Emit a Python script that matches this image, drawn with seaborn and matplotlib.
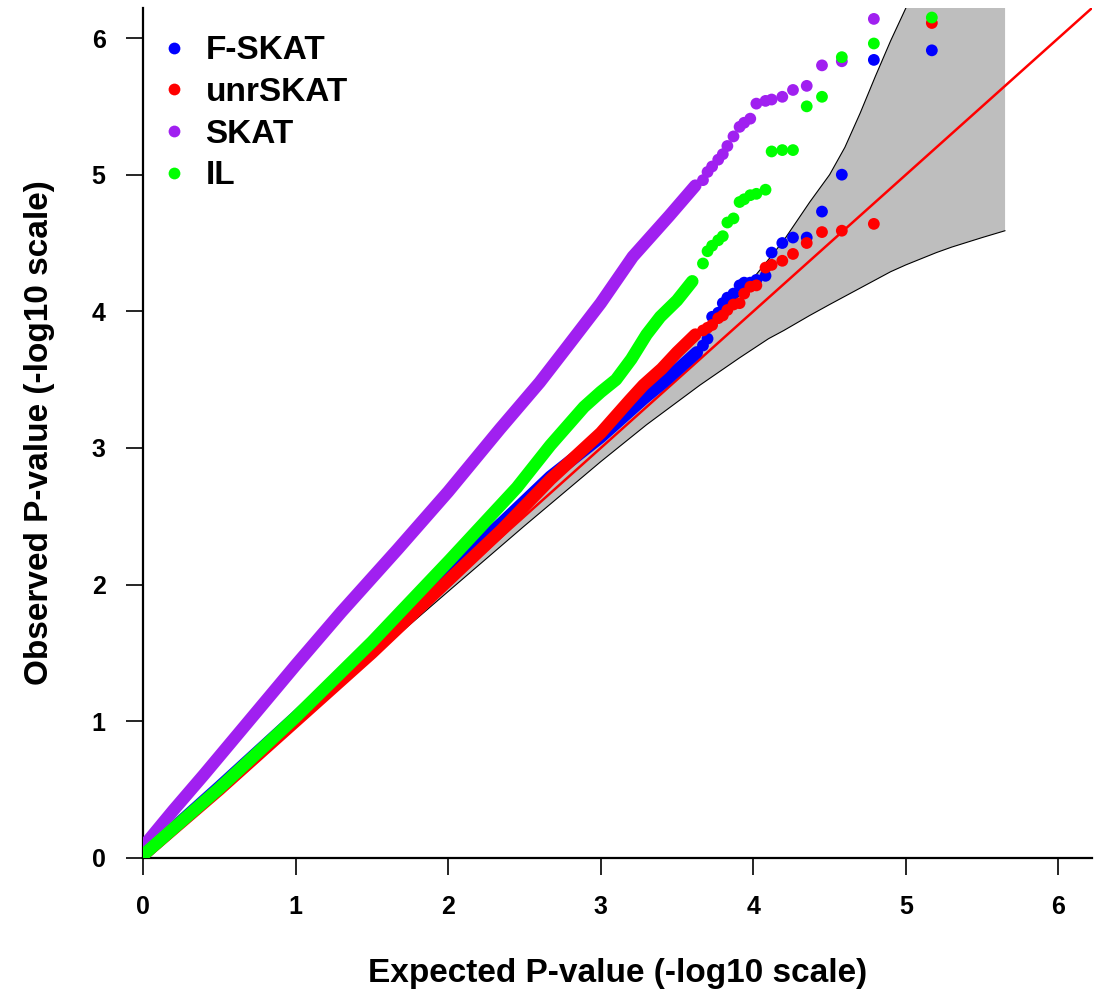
import numpy as np
import pandas as pd
import seaborn as sns
import matplotlib.pyplot as plt

# ---- values (-log10 scale) ----
series_names = ["F-SKAT", "unrSKAT", "SKAT", "IL"]
series_colors = ["#0000FF", "#FF0000", "#A020F0", "#00FF00"]

# dense body of each curve (thousands of overlapping dots) traced as knots
fskat_trace_x = [0, 0.5, 1.0, 1.5, 2.0, 2.35, 2.67, 3.0, 3.15, 3.28, 3.41, 3.55, 3.63]
fskat_trace_y = [0.02, 0.52, 1.03, 1.55, 2.10, 2.45, 2.79, 3.08, 3.23, 3.36, 3.48, 3.62, 3.70]
unrskat_trace_x = [0, 0.5, 1.0, 1.5, 2.0, 2.35, 2.67, 3.0, 3.19, 3.28, 3.40, 3.50, 3.62]
unrskat_trace_y = [0.02, 0.50, 1.00, 1.50, 2.03, 2.40, 2.77, 3.11, 3.35, 3.46, 3.58, 3.70, 3.83]
skat_trace_x = [0, 0.2, 0.4, 0.64, 1.0, 1.3, 1.67, 2.0, 2.34, 2.6, 2.78, 3.0, 3.21, 3.45, 3.62]
skat_trace_y = [0.08, 0.35, 0.61, 0.93, 1.41, 1.80, 2.26, 2.68, 3.14, 3.48, 3.74, 4.06, 4.40, 4.70, 4.92]
il_trace_x = [0, 0.5, 1.0, 1.5, 2.01, 2.45, 2.67, 2.89, 3.0, 3.1, 3.2, 3.3, 3.39, 3.5, 3.6]
il_trace_y = [0.02, 0.51, 1.03, 1.58, 2.18, 2.71, 3.02, 3.30, 3.41, 3.50, 3.65, 3.83, 3.96, 4.08, 4.22]

# top 20 ranks, drawn as separate dots (same expected value for every test)
tail_expected = [5.17, 4.79, 4.58, 4.45, 4.35, 4.26, 4.19, 4.12, 4.08, 4.02,
                 3.98, 3.94, 3.91, 3.87, 3.83, 3.80, 3.77, 3.73, 3.70, 3.67]
fskat_tail = [5.91, 5.84, 5.00, 4.73, 4.54, 4.54, 4.50, 4.43, 4.26, 4.23,
              4.21, 4.21, 4.19, 4.13, 4.10, 4.06, 3.99, 3.96, 3.80, 3.75]
unrskat_tail = [6.11, 4.64, 4.59, 4.58, 4.50, 4.42, 4.37, 4.34, 4.32, 4.19,
                4.18, 4.13, 4.06, 4.05, 4.01, 3.97, 3.95, 3.90, 3.88, 3.86]
skat_tail = [np.nan, 6.14, 5.83, 5.80, 5.65, 5.62, 5.57, 5.55, 5.54, 5.52,
             5.41, 5.38, 5.35, 5.28, 5.21, 5.15, 5.11, 5.06, 5.02, 4.96]
il_tail = [6.15, 5.96, 5.86, 5.57, 5.50, 5.18, 5.18, 5.17, 4.89, 4.86,
           4.85, 4.82, 4.80, 4.68, 4.65, 4.55, 4.52, 4.48, 4.44, 4.35]

# grey confidence band around the null line
band_x = [0, 1.0, 2.0, 2.5, 3.0, 3.3, 3.65, 3.91, 4.1, 4.2, 4.37, 4.5, 4.6, 4.7, 4.8,
          4.9, 5.0, 5.2, 5.3, 5.5, 5.65]
band_lower = [0, 0.985, 1.95, 2.43, 2.90, 3.17, 3.46, 3.66, 3.80, 3.86, 3.97, 4.05, 4.11,
              4.17, 4.23, 4.29, 4.34, 4.43, 4.47, 4.54, 4.59]
band_upper = [0, 1.02, 2.06, 2.58, 3.10, 3.42, 3.82, 4.12, 4.38, 4.52, 4.80, 5.00, 5.20,
              5.45, 5.72, 5.98, 6.22, 6.75, 7.00, 7.50, 7.90]

# long tables for seaborn
traces = [(fskat_trace_x, fskat_trace_y), (unrskat_trace_x, unrskat_trace_y),
          (skat_trace_x, skat_trace_y), (il_trace_x, il_trace_y)]
tails = [fskat_tail, unrskat_tail, skat_tail, il_tail]
trace_df = pd.concat([pd.DataFrame({"expected": tx, "observed": ty, "test": nm})
                      for nm, (tx, ty) in zip(series_names, traces)], ignore_index=True)
tail_df = pd.concat([pd.DataFrame({"expected": tail_expected, "observed": tv, "test": nm})
                     for nm, tv in zip(series_names, tails)], ignore_index=True)
palette = dict(zip(series_names, series_colors))

sns.set_style("ticks")
plt.rcParams['font.family'] = ['Liberation Sans', 'DejaVu Sans']
plt.rcParams['font.weight'] = 'bold'
for k in ['text.color', 'axes.labelcolor', 'xtick.color', 'ytick.color', 'axes.edgecolor']:
    plt.rcParams[k] = 'black'

fig = plt.figure(figsize=(10.95, 9.96), dpi=100)
ax = fig.add_axes([0.1306, 0.1386, 0.8667, 0.8534])

ax.fill_between(band_x, band_lower, band_upper, color="#BEBEBE", lw=0, zorder=1)
ax.plot(band_x, band_lower, color="black", lw=0.8, zorder=1.5)
ax.plot(band_x, band_upper, color="black", lw=0.8, zorder=1.5)
ax.axline((0, 0), slope=1, color="#FF0000", lw=1.8, zorder=2)

sns.lineplot(data=trace_df, x="expected", y="observed", hue="test", hue_order=series_names,
             palette=palette, estimator=None, sort=False, lw=9, legend=False,
             solid_capstyle="round", solid_joinstyle="round", ax=ax, zorder=3)
sns.scatterplot(data=tail_df, x="expected", y="observed", hue="test", hue_order=series_names,
                palette=palette, s=72, linewidth=0, ax=ax, zorder=4)

ax.set_xlim(0, 6.22)
ax.set_ylim(0, 6.22)
ax.set_xticks(range(7))
ax.set_yticks(range(7))
sns.despine(ax=ax)
for sp in ["left", "bottom"]:
    ax.spines[sp].set_linewidth(1.6)
ax.tick_params(length=12, width=1.2, labelsize=18, pad=15)
ax.set_xlabel("Expected P-value (-log10 scale)", fontsize=24, fontweight="bold", labelpad=28)
ax.set_ylabel("Observed P-value (-log10 scale)", fontsize=24, fontweight="bold", labelpad=26)

sns.move_legend(ax, "upper left", bbox_to_anchor=(0.015, 0.968), frameon=False, title=None,
                prop={"size": 24, "weight": "bold"}, borderaxespad=0, borderpad=0,
                handlelength=1.0, handletextpad=0.45, labelspacing=0.32, markerscale=1.0)

fig.savefig("out.png", dpi=100)
